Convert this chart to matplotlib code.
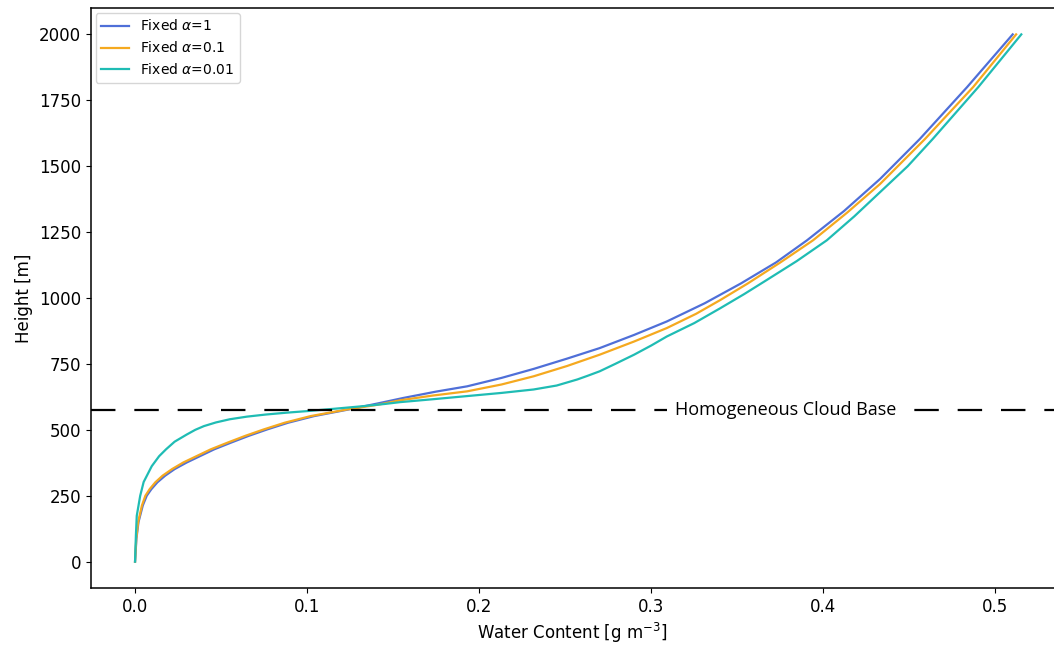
import matplotlib
matplotlib.use("Agg")
import matplotlib.pyplot as plt

# -------------------------------
# Data
# -------------------------------
labels = [r"Fixed $\alpha$=1", r"Fixed $\alpha$=0.1", r"Fixed $\alpha$=0.01"]
colors = ["#4f6fd8", "#f5a91f", "#1fbcb4"]

# height [m] and water content [g m-3] for each run
h_a1 = [0, 87, 150, 213, 250, 275, 301, 326, 351, 376, 401, 426, 452, 477, 502,
        527, 552, 577, 600, 621, 645, 665, 697, 731, 770, 810, 860, 911, 980,
        1055, 1135, 1219, 1330, 1452, 1603, 1800, 2000]
wc_a1 = [0.0, 0.0008, 0.002, 0.0045, 0.0068, 0.0095, 0.013, 0.0175, 0.023,
         0.030, 0.038, 0.046, 0.056, 0.066, 0.077, 0.089, 0.104, 0.124, 0.141,
         0.156, 0.175, 0.193, 0.213, 0.2316, 0.251, 0.270, 0.290, 0.309, 0.331,
         0.352, 0.3725, 0.3905, 0.412, 0.433, 0.456, 0.4835, 0.510]

h_a01 = [0, 87, 150, 213, 250, 275, 301, 326, 351, 376, 401, 426, 452, 477, 502,
         527, 552, 577, 595, 612, 630, 646, 672, 703, 742, 785, 835, 886, 940,
         992, 1055, 1135, 1219, 1325, 1433, 1603, 1800, 2000]
wc_a01 = [0.0, 0.0007, 0.0018, 0.004, 0.006, 0.0085, 0.0118, 0.016, 0.0215,
          0.028, 0.036, 0.044, 0.054, 0.064, 0.075, 0.087, 0.102, 0.123, 0.141,
          0.154, 0.173, 0.193, 0.213, 0.2316, 0.251, 0.270, 0.290, 0.309, 0.326,
          0.340, 0.356, 0.375, 0.394, 0.414, 0.433, 0.459, 0.487, 0.512]

h_a001 = [0, 100, 174, 250, 302, 362, 400, 426, 455, 482, 500, 514, 528, 540,
          550, 558, 565, 571, 580, 590, 598, 605, 616, 628, 640, 653, 668, 691,
          705, 722, 750, 785, 820, 854, 905, 961, 1015, 1068, 1140, 1219, 1310,
          1402, 1500, 1603, 1800, 2000]
wc_a001 = [0.0, 0.0005, 0.001, 0.003, 0.005, 0.0097, 0.014, 0.018, 0.023, 0.030,
           0.035, 0.040, 0.047, 0.055, 0.065, 0.076, 0.088, 0.100, 0.116, 0.133,
           0.145, 0.154, 0.173, 0.193, 0.213, 0.2316, 0.245, 0.257, 0.263, 0.270,
           0.279, 0.290, 0.300, 0.309, 0.325, 0.340, 0.354, 0.367, 0.3845, 0.402,
           0.418, 0.433, 0.449, 0.4635, 0.490, 0.515]

cloud_base = 577
cloud_label = "Homogeneous Cloud Base"

# -------------------------------
# Plot
# -------------------------------
fig = plt.figure(figsize=(10.54, 6.47), dpi=100)
ax = fig.add_axes([0.086, 0.0912, 0.914, 0.8964])

series = [(wc_a1, h_a1), (wc_a01, h_a01), (wc_a001, h_a001)]
for (x, y), lab, c in zip(series, labels, colors):
    ax.plot(x, y, color=c, lw=1.6, label=lab)

ax.axhline(cloud_base, color="black", lw=1.6, dashes=(11, 8.5))
ax.text(0.378, cloud_base, cloud_label, fontsize=13, family="Open Sans",
        ha="center", va="center",
        bbox=dict(facecolor="white", edgecolor="none", pad=6))

ax.set_xlim(-0.0258, 0.534)
ax.set_ylim(-100, 2100)
ax.set_xticks([0.0, 0.1, 0.2, 0.3, 0.4, 0.5])
ax.set_yticks(range(0, 2001, 250))
ax.tick_params(labelsize=12)
ax.set_xlabel(r"Water Content [g m$^{-3}$]", fontsize=12)
ax.set_ylabel("Height [m]", fontsize=12)
ax.spines["right"].set_visible(False)
for s in ["left", "bottom", "top"]:
    ax.spines[s].set_linewidth(1.1)

ax.legend(loc="upper left", fontsize=10, borderaxespad=0.35)

fig.savefig("out.png", dpi=100)
